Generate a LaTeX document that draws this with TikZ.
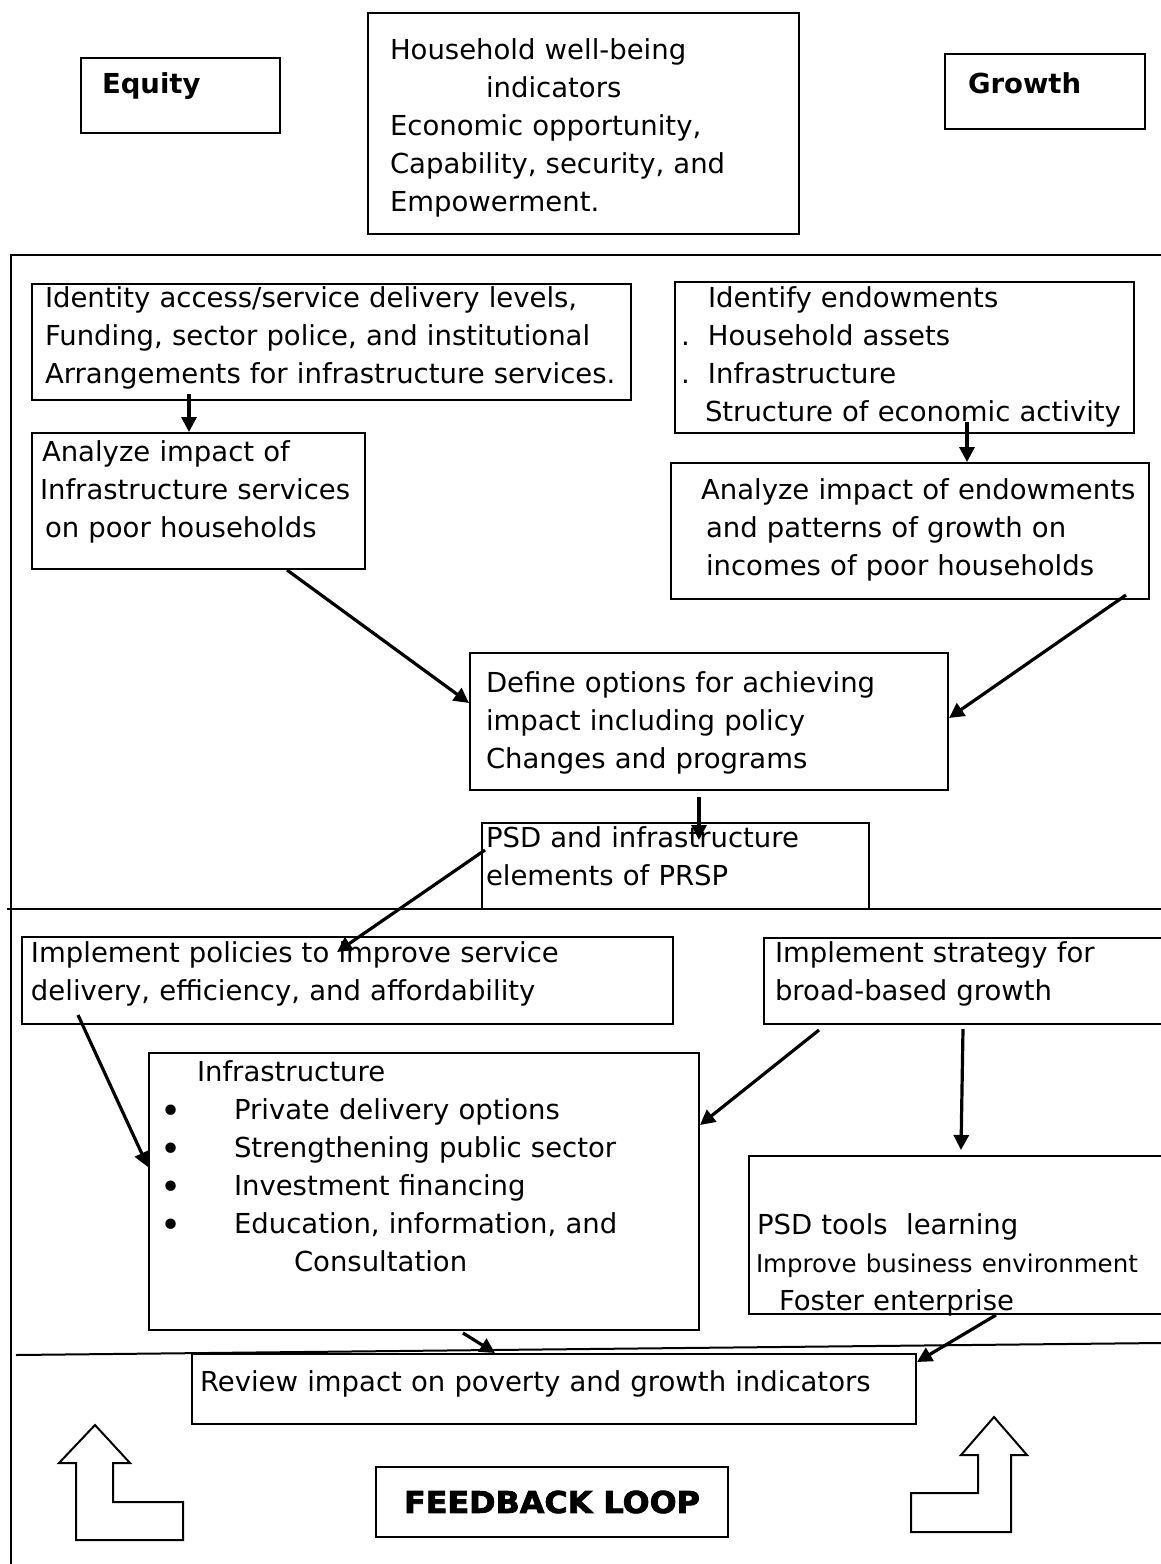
\documentclass[tikz,border=0pt]{standalone}
\usepackage{fontspec}
\setmainfont{DejaVu Sans}
\newfontfamily\heavyfont{DejaVu Sans}[BoldFeatures={FakeBold=2.5}]
\usepackage{tikz}
\usetikzlibrary{arrows.meta}
\newcommand{\boxfont}{\fontsize{27.5}{38}\selectfont}
\newcommand{\smallboxfont}{\fontsize{24.5}{38}\selectfont}
\newcommand{\indt}[1]{\hspace*{#1pt}}
\newcommand{\blt}{\makebox[74pt][l]{\raisebox{-4pt}{\scalebox{1.3}{\textbullet}}}}
\tikzset{
        stage_box/.style = {draw=black, line width=2pt, align=left, inner sep=0pt,
            anchor=north west, font=\boxfont},
        head_box/.style = {stage_box, font=\boxfont\bfseries},
        loop_box/.style = {draw=black, line width=2pt, inner sep=0pt,
            minimum width=352pt, minimum height=70pt,
            font=\fontsize{30}{36}\selectfont\heavyfont\bfseries},
        flow/.style = {->, line width=3.2pt},
        frame_line/.style = {line width=2pt},
        hollow_arrow/.style = {draw=black, line width=2pt, fill=white}
    }
\begin{document}
\begin{tikzpicture}[>={Triangle[length=15pt,width=15pt]}, x=1pt, y=-1pt]
    \useasboundingbox (0,0) rectangle (1161,1564);
    % frame lines
    \draw[frame_line] (11,1564) -- (11,255) -- (1161,255);
    \draw[frame_line] (7,909) -- (1161,909);
    \draw[frame_line] (16,1355) -- (1161,1343);

    % top row
    \node[head_box, text width=199pt, text height=35pt, text depth=40pt] (equity) at (80,57) {\indt{21}Equity};
    \node[stage_box, text width=431pt, text height=46pt, text depth=175pt] (wellbeing) at (367,12)
        {\indt{22}Household well-being\\ \indt{118}indicators\\ \indt{22}Economic opportunity,\\
         \indt{22}Capability, security, and\\ \indt{22}Empowerment.};
    \node[head_box, text width=200pt, text height=39pt, text depth=36pt] (growth) at (944,53) {\indt{23}Growth};

    % analysis
    \node[stage_box, text width=599pt, text height=23pt, text depth=93pt] (idAccess) at (31,283)
        {\indt{13}Identity access/service delivery levels,\\ \indt{13}Funding, sector police, and institutional\\
         \indt{13}Arrangements for infrastructure services.};
    \node[stage_box, text width=459pt, text height=25pt, text depth=126pt] (idEndow) at (674,281)
        {\indt{33}Identify endowments\\ \indt{6}\makebox[27pt][l]{.}Household assets\\
         \indt{6}\makebox[27pt][l]{.}Infrastructure\\ \indt{30}Structure of economic activity};
    \node[stage_box, text width=333pt, text height=28pt, text depth=108pt] (anaInfra) at (31,432)
        {\indt{10}Analyze impact of\\ \indt{8}Infrastructure services\\ \indt{13}on poor households};
    \node[stage_box, text width=478pt, text height=36pt, text depth=100pt] (anaEndow) at (670,462)
        {\indt{30}Analyze impact of endowments\\ \indt{35}and patterns of growth on\\ \indt{35}incomes of poor households};
    \node[stage_box, text width=478pt, text height=39pt, text depth=98pt] (options) at (469,652)
        {\indt{16}Define options for achieving\\ \indt{16}impact including policy\\ \indt{16}Changes and programs};
    \node[stage_box, text width=387pt, text height=24pt, text depth=62pt] (prsp) at (481,822)
        {\indt{4}PSD and infrastructure\\ \indt{4}elements of PRSP};

    % implementation
    \node[stage_box, text width=651pt, text height=25pt, text depth=62pt] (policies) at (21,936)
        {\indt{9}Implement policies to improve service\\ \indt{9}delivery, efficiency, and affordability};
    \node[stage_box, text width=412pt, text height=24pt, text depth=62pt] (strategy) at (763,937)
        {\indt{11}Implement strategy for\\ \indt{11}broad-based growth};
    \node[stage_box, text width=550pt, text height=28pt, text depth=249pt] (infra) at (148,1052)
        {\indt{48}Infrastructure\\
         \indt{11}\blt Private delivery options\\
         \indt{11}\blt Strengthening public sector\\
         \indt{11}\blt Investment financing\\
         \indt{11}\blt Education, information, and\\
         \indt{145}Consultation};
    \node[stage_box, text width=427pt, text height=78pt, text depth=80pt] (psdtools) at (748,1155)
        {\indt{8}PSD tools\ \ learning\\ \indt{7}{\smallboxfont Improve business environment}\\ \indt{30}Foster enterprise};

    % review and loop
    \node[stage_box, text width=724pt, text height=37pt, text depth=33pt] (review) at (191,1353)
        {\indt{8}Review impact on poverty and growth indicators};
    \node[loop_box] (feedback) at (552,1502) {\scalebox{1.06}[1]{FEEDBACK LOOP}};
    \draw[hollow_arrow] (95,1425) -- (130,1463) -- (113,1463) -- (113,1502) -- (183,1502)
        -- (183,1540) -- (76,1540) -- (76,1463) -- (59,1463) -- cycle;
    \draw[hollow_arrow] (994,1417) -- (1027,1455) -- (1011,1455) -- (1011,1532) -- (911,1532)
        -- (911,1493) -- (978,1493) -- (978,1455) -- (961,1455) -- cycle;

    % connectors
    \draw[flow] ([xshift=158pt,yshift=7pt]idAccess.south west) -- ([xshift=158pt]anaInfra.north west);
    \draw[flow] ([xshift=293pt,yshift=12pt]idEndow.south west) -- ([xshift=297pt]anaEndow.north west);
    \draw[flow] ([xshift=256pt]anaInfra.south west) -- ([yshift=-51pt]options.north west);
    \draw[flow] ([xshift=456pt,yshift=5pt]anaEndow.south west) -- ([yshift=-66pt]options.north east);
    \draw[flow] ([xshift=230pt,yshift=-6pt]options.south west) -- ([xshift=218pt,yshift=-18pt]prsp.north west);
    \draw[flow] ([xshift=4pt,yshift=-28pt]prsp.north west) -- ([xshift=316pt,yshift=-16pt]policies.north west);
    \draw[flow] ([xshift=57pt,yshift=10pt]policies.south west) -- ([yshift=-115pt]infra.north west);
    \draw[flow] ([xshift=56pt,yshift=-5pt]strategy.south west) -- ([yshift=-73pt]infra.north east);
    \draw[flow] ([xshift=200pt,yshift=-4pt]strategy.south west) -- ([xshift=213pt,yshift=5pt]psdtools.north west);
    \draw[flow] ([xshift=315pt,yshift=-2pt]infra.south west) -- ([xshift=304pt]review.north west);
    \draw[flow] ([xshift=248pt]psdtools.south west) -- ([yshift=-9pt]review.north east);
\end{tikzpicture}
\end{document}
